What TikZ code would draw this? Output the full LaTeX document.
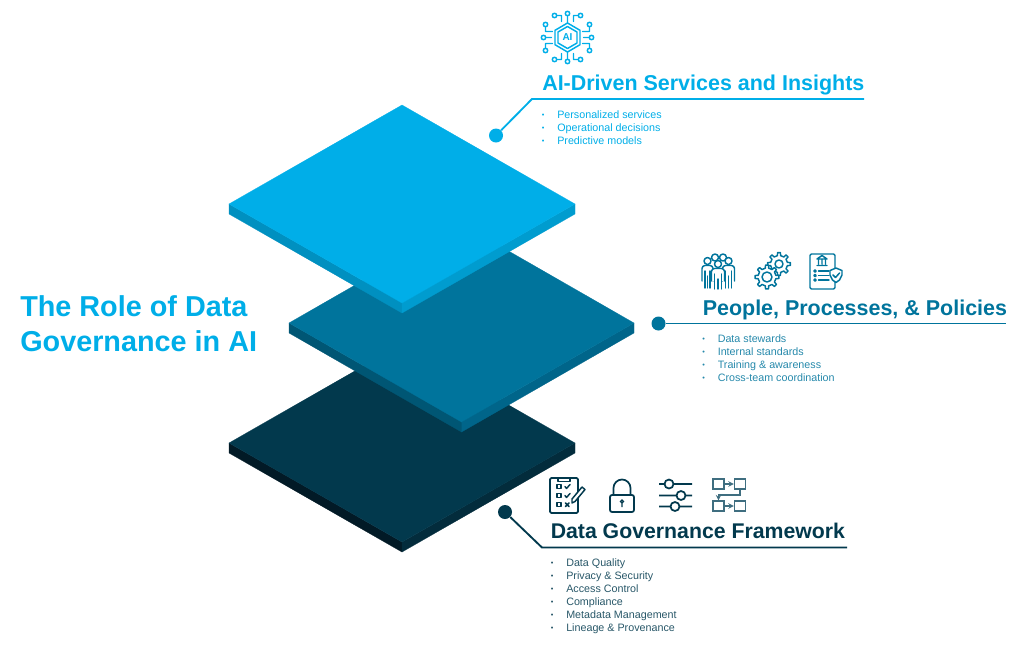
\documentclass[tikz,border=0pt]{standalone}
\usepackage{fontspec}
\setmainfont{Liberation Sans}
\usetikzlibrary{arrows, calc}

\definecolor{aiblue}{HTML}{00AEE8}
\definecolor{aileft}{HTML}{0090C0}
\definecolor{airight}{HTML}{009CCF}
\definecolor{ppblue}{HTML}{00749C}
\definecolor{ppleft}{HTML}{005674}
\definecolor{ppright}{HTML}{00658A}
\definecolor{dgblue}{HTML}{02394D}
\definecolor{dgleft}{HTML}{021A26}
\definecolor{dgright}{HTML}{032C3C}
\definecolor{flowgrey}{HTML}{3F6E80}

\tikzstyle{arrow} = [line width=0.8pt,->,>=stealth]
\tikzstyle{maintitle} = [anchor=base west, inner sep=0pt, align=left, font=\fontsize{21.6pt}{26.2pt}\selectfont\bfseries, text=aiblue]
\tikzstyle{heading} = [anchor=base west, inner sep=0pt, font=\fontsize{16.1pt}{18pt}\selectfont\bfseries]
\tikzstyle{item} = [anchor=base west, inner sep=0pt, font=\fontsize{8.05pt}{9pt}\selectfont]
\tikzstyle{dot} = [circle, inner sep=0pt, minimum size=10.5pt]
\tikzstyle{leader} = [line width=1.4pt]
\tikzstyle{icon} = [line width=1.1pt, line join=round, line cap=round]
\tikzstyle{flowbox} = [rectangle, draw=flowgrey, line width=0.95pt, inner sep=0pt, minimum width=8.4pt, minimum height=7.6pt]

\newcommand{\bul}{\llap{\raisebox{0.2pt}{\fontsize{5.5pt}{5.5pt}\selectfont\textbullet}\hspace{9.6pt}}}

\newcommand{\slab}[6]{
  \path [fill=#6, draw=#6, line width=0.2pt] (#1-#3,#2) -- (#1,#2+99) -- (#1,#2+109) -- (#1-#3,#2+10) -- cycle;
  \path [fill=#5, draw=#5, line width=0.2pt] (#1+#3,#2) -- (#1,#2+99) -- (#1,#2+109) -- (#1+#3,#2+10) -- cycle;
  \path [fill=#4, draw=#4, line width=0.2pt] (#1-#3,#2) -- (#1,#2-99) -- (#1+#3,#2) -- (#1,#2+99) -- cycle;
}

\newcommand{\person}[5]{
  \draw [icon, ppblue, fill=white] (#1,#2) circle (3.5);
  \draw [icon, ppblue, fill=white, rounded corners=2.2pt] (#1-#3,#2+#4) -- (#1-#3,#2+4.5) -- (#1+#3,#2+4.5) -- (#1+#3,#2+#4);
  \draw [icon, ppblue] (#1-#3+3,#2+10) -- (#1-#3+3,#2+#5) (#1,#2+15) -- (#1,#2+#5) (#1+#3-3,#2+10) -- (#1+#3-3,#2+#5);
}

\newcommand{\gear}[3]{
  \draw [icon, ppblue, fill=white] ($(#1,#2)+(-11:#3)$) \foreach \a in {0,45,...,315} { -- ($(#1,#2)+(\a-11:#3)$) -- ($(#1,#2)+(\a-7:#3+3)$) -- ($(#1,#2)+(\a+7:#3+3)$) -- ($(#1,#2)+(\a+11:#3)$)} -- cycle;
}

\begin{document}

\begin{tikzpicture}[x=0.75pt, y=-0.75pt]

\useasboundingbox (0,0) rectangle (1024,644);

\slab{402}{443}{173}{dgblue}{dgright}{dgleft}
\slab{461.5}{323}{172.5}{ppblue}{ppright}{ppleft}
\slab{402}{204}{173}{aiblue}{airight}{aileft}

\node (title) [maintitle] at (20,351.5) {The Role of Data\\Governance in AI};

\node (aidot) [dot, fill=aiblue] at (496,135.5) {};
\coordinate (aiknee) at (532,99);
\coordinate (aiend) at (864,99);
\draw [leader, aiblue] (aidot) -- (aiknee) -- (aiend);

\node (ppdot) [dot, fill=ppblue] at (658.5,323.5) {};
\coordinate (ppend) at (1006,323.5);
\draw [leader, ppblue] (ppdot) -- (ppend);

\node (dgdot) [dot, fill=dgblue] at (505,512) {};
\coordinate (dgknee) at (542,547.5);
\coordinate (dgend) at (847,547.5);
\draw [leader, dgblue] (dgdot) -- (dgknee) -- (dgend);

\node (aihead) [heading, text=aiblue] at (542,90.5) {AI-Driven Services and Insights};
\node (ai1) [item, text=aiblue] at (557,118) {\bul Personalized services};
\node (ai2) [item, text=aiblue] at (557,131) {\bul Operational decisions};
\node (ai3) [item, text=aiblue] at (557,144) {\bul Predictive models};

\node (pphead) [heading, text=ppblue] at (702.5,315) {People, Processes, \& Policies};
\node (pp1) [item, text=ppblue!85] at (717.5,342) {\bul Data stewards};
\node (pp2) [item, text=ppblue!85] at (717.5,355) {\bul Internal standards};
\node (pp3) [item, text=ppblue!85] at (717.5,368) {\bul Training \& awareness};
\node (pp4) [item, text=ppblue!85] at (717.5,381) {\bul Cross-team coordination};

\node (dghead) [heading, text=dgblue, font=\fontsize{15.95pt}{18pt}\selectfont\bfseries] at (550.5,538) {Data Governance Framework};
\node (dg1) [item, text=dgblue!85] at (566,566) {\bul Data Quality};
\node (dg2) [item, text=dgblue!85] at (566,579) {\bul Privacy \& Security};
\node (dg3) [item, text=dgblue!85] at (566,592) {\bul Access Control};
\node (dg4) [item, text=dgblue!85] at (566,605) {\bul Compliance};
\node (dg5) [item, text=dgblue!85] at (566,618) {\bul Metadata Management};
\node (dg6) [item, text=dgblue!85] at (566,631) {\bul Lineage \& Provenance};

\begin{scope}[shift={(567.5,37.5)}, icon, aiblue]
\draw (0,-14.5) -- (12.5,-7.2) -- (12.5,7.2) -- (0,14.5) -- (-12.5,7.2) -- (-12.5,-7.2) -- cycle;
\draw (0,-11) -- (9.5,-5.5) -- (9.5,5.5) -- (0,11) -- (-9.5,5.5) -- (-9.5,-5.5) -- cycle;
\node (ailabel) [inner sep=0pt, font=\fontsize{7.5pt}{8pt}\selectfont\bfseries, text=aiblue] at (0,0) {AI};
\draw (0,-15) -- (0,-21) (0,-24) circle (2.2);
\draw (0,15) -- (0,21) (0,24) circle (2.2);
\draw (-16,0) -- (-21,0) (-24,0) circle (2.2);
\draw (16,0) -- (21,0) (24,0) circle (2.2);
\draw (-6,-16) -- (-6,-22) -- (-10.5,-22) (-13,-22) circle (2.2);
\draw (6,-16) -- (6,-22) -- (10.5,-22) (13,-22) circle (2.2);
\draw (-6,16) -- (-6,22) -- (-10.5,22) (-13,22) circle (2.2);
\draw (6,16) -- (6,22) -- (10.5,22) (13,22) circle (2.2);
\draw (-15,-6) -- (-22,-6) -- (-22,-10.5) (-22,-13) circle (2.2);
\draw (15,-6) -- (22,-6) -- (22,-10.5) (22,-13) circle (2.2);
\draw (-15,6) -- (-22,6) -- (-22,10.5) (-22,13) circle (2.2);
\draw (15,6) -- (22,6) -- (22,10.5) (22,13) circle (2.2);
\end{scope}

\draw [icon, ppblue] (715,257.5) circle (3.5) (723,257.5) circle (3.5);
\person{707.5}{261}{5.5}{20}{27}
\person{728.5}{261}{6}{20}{27}
\person{718}{264}{6.5}{17}{25}

\gear{779}{264}{8.5}
\draw [icon, ppblue] (779,264) circle (4);
\gear{767}{277}{9}
\draw [icon, ppblue] (767,277) circle (5);

\draw [icon, ppblue, rounded corners=1pt] (810,254) rectangle (835,289);
\draw [icon, ppblue] (817,259) -- (822,255.5) -- (827,259) -- cycle (818.5,260) -- (818.5,264) (822,260) -- (822,264) (825.5,260) -- (825.5,264) (817,265.5) -- (827,265.5);
\draw [icon, ppblue] (815,271) circle (1.2) (815,275.5) circle (1.2) (815,280) circle (1.2);
\draw [icon, ppblue] (818.5,271) -- (829,271) (818.5,275.5) -- (829,275.5) (818.5,280) -- (829,280);
\draw [icon, ppblue, fill=white] (830,270.5) -- (836,268) -- (842,270.5) -- (842,275) -- (839.5,280) -- (836,282.5) -- (832.5,280) -- (830,275) -- cycle;
\draw [icon, ppblue] (833,275) -- (835.5,277.5) -- (839.5,273);

\draw [line width=1.35pt, dgblue, rounded corners=1pt] (550,478) rectangle (578,513);
\draw [icon, dgblue, fill=white] (558,478) rectangle (570,481.5);
\draw [icon, dgblue] (557,484.5) rectangle (561,488.5) (557,493.5) rectangle (561,497.5) (557,502.5) rectangle (561,506.5);
\draw [icon, dgblue] (565,486.5) -- (566.5,488.5) -- (570,484.5) (565,495.5) -- (566.5,497.5) -- (570,493.5) (565.5,503) -- (569,506.5) (569,503) -- (565.5,506.5);
\draw [icon, dgblue, fill=white] (572,499) -- (582,487) -- (585,489.5) -- (575,501.5) -- (572,503) -- cycle;

\draw [line width=1.3pt, dgblue, rounded corners=1.5pt] (610,495) rectangle (634,512);
\draw [line width=1.3pt, dgblue] (613.5,495) -- (613.5,488) arc (180:360:8.5) -- (630.5,495);
\draw [line width=1pt, dgblue] (622,501.5) circle (1.5) (622,503) -- (622,507);

\draw [line width=1.3pt, dgblue] (659,484) -- (664.5,484) (673.5,484) -- (692,484) (669,484) circle (4.5);
\draw [line width=1.3pt, dgblue] (659,495.5) -- (676.5,495.5) (685.5,495.5) -- (692,495.5) (681,495.5) circle (4.5);
\draw [line width=1.3pt, dgblue] (659,506.5) -- (670.5,506.5) (679.5,506.5) -- (692,506.5) (675,506.5) circle (4.5);

\node (flowa) [flowbox] at (718.5,484) {};
\node (flowb) [flowbox] at (740,484) {};
\node (flowc) [flowbox] at (718.5,506) {};
\node (flowd) [flowbox] at (740,506) {};
\coordinate (flowm) at (740,495);
\coordinate (flown) at (718.5,495);
\draw [arrow, flowgrey] (flowa) -- (flowb);
\draw [arrow, flowgrey] (flowc) -- (flowd);
\draw [arrow, flowgrey] (flowb) -- (flowm) -- (flown) -- (flowc);

\end{tikzpicture}

\end{document}
